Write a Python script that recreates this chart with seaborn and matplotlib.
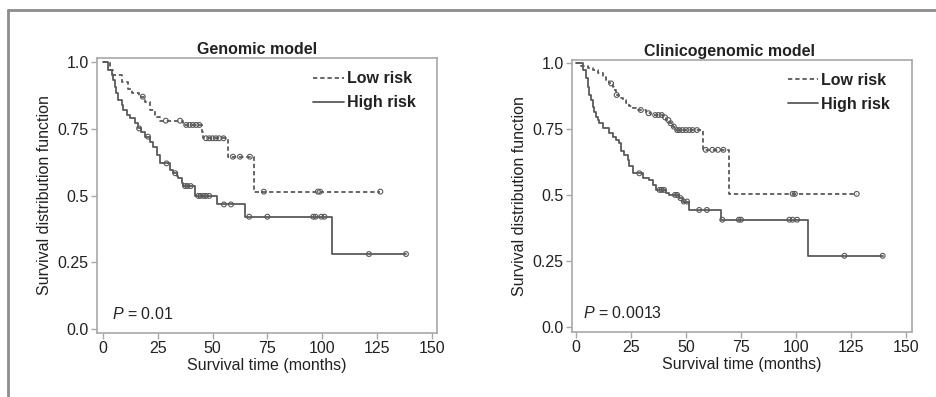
import numpy as np
import pandas as pd
import matplotlib
matplotlib.use("Agg")
import matplotlib.pyplot as plt
from matplotlib.lines import Line2D
import seaborn as sns

sns.set_theme(style="white")
plt.rcParams['font.family'] = ['Liberation Sans', 'DejaVu Sans']
plt.rcParams['mathtext.fontset'] = 'custom'
plt.rcParams['mathtext.it'] = 'Liberation Sans:italic'
plt.rcParams['mathtext.rm'] = 'Liberation Sans'

# ---------------- data ----------------
titles = ["Genomic model", "Clinicogenomic model"]
p_texts = ["0.01", "0.0013"]
group_labels = ["Low risk", "High risk"]
x_ticks = [0, 25, 50, 75, 100, 125, 150]
y_ticks = [0.0, 0.25, 0.5, 0.75, 1.0]
y_tick_labels = ["0.0", "0.25", "0.5", "0.75", "1.0"]

# Genomic model - low risk
gen_low_t = [0, 3.2, 4.7, 8.5, 11.6, 13.1, 16.5, 19.1, 21.4, 23.7, 26.0, 36.5, 45.0, 45.7, 57.1, 68.9, 126.5]
gen_low_s = [1.0, 0.971, 0.952, 0.927, 0.899, 0.884, 0.871, 0.85, 0.821, 0.796, 0.781, 0.765, 0.74, 0.715, 0.646, 0.515, 0.515]
gen_low_cens = [18.2, 28.7, 35.2, 38.0, 39.5, 41.0, 42.5, 44.0, 47.0, 48.5, 50.0, 51.5, 53.0, 55.0,
                59.3, 62.5, 67.0, 73.4, 98.0, 99.0, 126.5]

# Genomic model - high risk
gen_high_t = [0, 2.4, 3.95, 4.7, 5.5, 6.2, 7.0, 8.5, 9.3, 10.8, 12.3, 14.6, 16.1, 17.6, 19.2, 21.4,
              23.0, 24.5, 26.0, 30.5, 32.1, 33.6, 34.4, 35.9, 36.6, 42.0, 51.8, 64.8, 104.3, 138.2]
gen_high_s = [1.0, 0.971, 0.952, 0.934, 0.909, 0.884, 0.859, 0.84, 0.821, 0.802, 0.79, 0.771, 0.752,
              0.74, 0.721, 0.702, 0.684, 0.652, 0.621, 0.596, 0.584, 0.574, 0.565, 0.546, 0.536,
              0.499, 0.467, 0.421, 0.281, 0.281]
gen_high_cens = [16.5, 20.6, 29.0, 33.0, 37.5, 38.5, 40.0, 43.5, 44.5, 46.0, 47.0, 48.5, 55.2, 58.4,
                 66.7, 75.0, 95.9, 97.0, 99.6, 101.0, 121.3, 138.2]

# Clinicogenomic model - low risk
cli_low_t = [0, 2.3, 5.3, 7.6, 9.85, 12.1, 13.6, 15.15, 16.7, 17.4, 18.2, 19.7, 21.2, 22.7, 24.2,
             25.8, 27.3, 31.8, 34.1, 39.4, 40.9, 42.4, 43.9, 45.5, 57.9, 69.7, 127.6]
cli_low_s = [1.0, 0.991, 0.984, 0.975, 0.962, 0.947, 0.937, 0.924, 0.912, 0.899, 0.88, 0.867, 0.861,
             0.848, 0.838, 0.83, 0.823, 0.811, 0.804, 0.795, 0.785, 0.773, 0.76, 0.747, 0.672, 0.505, 0.505]
cli_low_cens = [16.0, 18.5, 29.5, 33.0, 36.0, 37.5, 39.0, 40.5, 42.0, 43.0, 44.5, 46.0, 47.0, 48.5,
                50.0, 51.5, 53.0, 55.0, 59.0, 62.0, 64.5, 67.0, 98.5, 99.5, 127.6]

# Clinicogenomic model - high risk
cli_high_t = [0, 3.0, 4.5, 5.3, 6.1, 6.8, 7.6, 8.3, 9.1, 9.85, 10.6, 12.1, 15.15, 16.7, 18.2, 19.7,
              20.5, 22.0, 23.5, 24.2, 25.8, 30.3, 33.3, 34.8, 36.4, 40.9, 42.4, 47.0, 48.5, 51.5,
              65.9, 105.3, 139.4]
cli_high_s = [1.0, 0.975, 0.943, 0.912, 0.88, 0.861, 0.836, 0.817, 0.798, 0.785, 0.773, 0.754, 0.737,
              0.722, 0.71, 0.697, 0.669, 0.653, 0.634, 0.609, 0.583, 0.564, 0.558, 0.539, 0.52,
              0.508, 0.501, 0.489, 0.476, 0.444, 0.407, 0.27, 0.27]
cli_high_cens = [28.8, 38.0, 39.0, 40.0, 45.0, 46.0, 47.5, 49.0, 50.5, 56.0, 59.5, 66.5, 74.0, 75.0,
                 97.0, 98.5, 100.5, 122.0, 139.4]

panels = [
    [(gen_low_t, gen_low_s, gen_low_cens), (gen_high_t, gen_high_s, gen_high_cens)],
    [(cli_low_t, cli_low_s, cli_low_cens), (cli_high_t, cli_high_s, cli_high_cens)],
]

# ---------------- figure ----------------
fig = plt.figure(figsize=(9.36, 3.97), dpi=100)
axes_pos = [[0.1036, 0.1612, 0.3632, 0.6927], [0.6111, 0.1637, 0.3632, 0.685]]
xlims = [(-2.7, 152.3), (-1.8, 152.7)]
ylims = [(-0.015, 1.016), (-0.019, 1.0125)]
leg_anchor = [(0.636, 0.952), (0.634, 0.954)]
title_x = [0.472, 0.462]
p_pos = [(0.043, 0.069), (0.033, 0.071)]

line_col = "#5a5a5a"
spine_col = "#a8a8a8"
txt_col = "#222222"
styles = [(0, (2.4, 1.6)), "-"]
fs = 11.5


def step_value(ts, ss, c):
    idx = np.searchsorted(np.asarray(ts), c, side="right") - 1
    return ss[max(idx, 0)]


for i, pos in enumerate(axes_pos):
    ax = fig.add_axes(pos)
    for j, (ts, ss, cens) in enumerate(panels[i]):
        df = pd.DataFrame({"t": ts, "s": ss})
        sns.lineplot(data=df, x="t", y="s", ax=ax, drawstyle="steps-post", estimator=None,
                     sort=False, color=line_col, linewidth=1.3, linestyle=styles[j],
                     label=group_labels[j])
        cdf = pd.DataFrame({"t": cens, "s": [step_value(ts, ss, c) for c in cens]})
        sns.scatterplot(data=cdf, x="t", y="s", ax=ax, marker="o", s=12, facecolors="none",
                        edgecolor=line_col, linewidth=0.8, zorder=3, legend=False)
    ax.set_xlim(*xlims[i])
    ax.set_ylim(*ylims[i])
    ax.set_xticks(x_ticks)
    ax.set_yticks(y_ticks)
    ax.set_yticklabels(y_tick_labels)
    ax.tick_params(axis="both", labelsize=fs, colors=spine_col, labelcolor=txt_col,
                   length=4, width=1, pad=2, left=True, bottom=True)
    for sp in ax.spines.values():
        sp.set_color(spine_col)
        sp.set_linewidth(1.2)
    ax.set_xlabel("Survival time (months)", fontsize=fs, color=txt_col, labelpad=1)
    ax.set_ylabel("Survival distribution function", fontsize=fs, color=txt_col, labelpad=4)
    ax.set_title(titles[i], fontsize=fs, fontweight="bold", color=txt_col, pad=3, x=title_x[i])
    leg = ax.legend(loc="upper left", bbox_to_anchor=leg_anchor[i], frameon=False,
                    handlelength=1.9, handletextpad=0.22, borderpad=0, borderaxespad=0,
                    labelspacing=0.58, prop={"size": fs, "weight": "bold"})
    for t in leg.get_texts():
        t.set_color(txt_col)
    ax.text(p_pos[i][0], p_pos[i][1], "$P$ = " + p_texts[i], transform=ax.transAxes,
            fontsize=fs, color=txt_col, va="center", ha="left")

border_col = "#8c8c8c"
fig.add_artist(Line2D([0.0085, 1.0], [0.975, 0.975], transform=fig.transFigure,
                      color=border_col, linewidth=2))
fig.add_artist(Line2D([0.0085, 0.0085], [0.0, 0.975], transform=fig.transFigure,
                      color=border_col, linewidth=2))

fig.savefig("out.png", dpi=100, facecolor="white")
